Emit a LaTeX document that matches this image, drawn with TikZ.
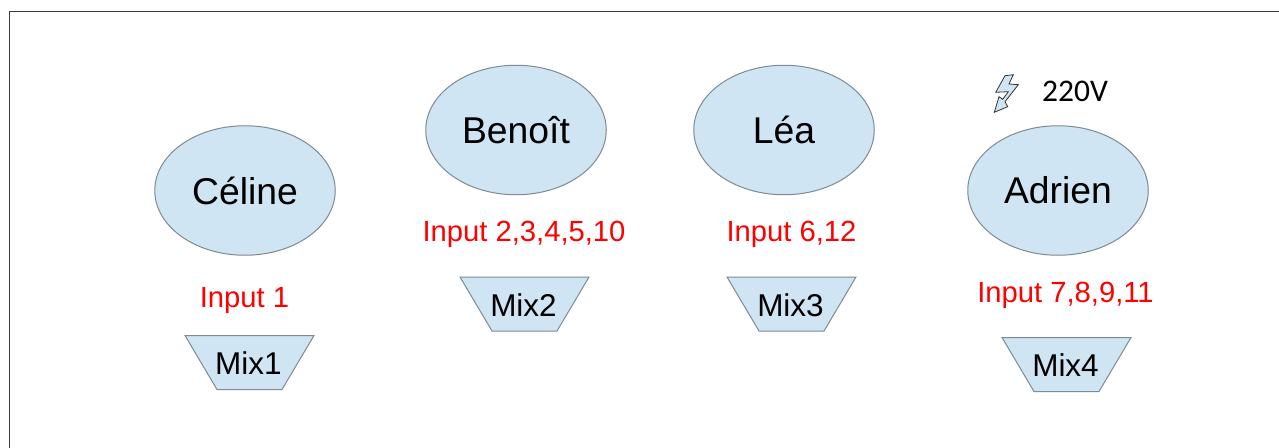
\documentclass[tikz,border=0pt]{standalone}
\usepackage{fontspec}
\setmainfont{Liberation Sans}
\newfontfamily\carl{Carlito}
\definecolor{fillblue}{HTML}{CFE5F4}
\definecolor{edgegray}{HTML}{7F8A92}
\definecolor{framegray}{HTML}{3A3A3A}
\usetikzlibrary{shapes.geometric}
\tikzset{
  person/.style={draw=edgegray,fill=fillblue,line width=1pt,ellipse,minimum width=180.5pt,minimum height=129.5pt,inner sep=0pt,font=\fontsize{37.3}{40}\selectfont},
  inlabel/.style={text=red,inner sep=0pt,font=\fontsize{29.2}{32}\selectfont},
  mixlabel/.style={inner sep=0pt,font=\fontsize{31.5}{34}\selectfont},
  mixshape/.style={draw=edgegray,fill=fillblue,line width=1pt,line join=miter},
  boltshape/.style={draw=black!80,fill=fillblue,line width=.8pt,line join=miter}
}
\begin{document}
\begin{tikzpicture}[x=1pt,y=-1pt]
\useasboundingbox (0,0) rectangle (1279,447);
\draw[framegray,line width=1.5pt] (9.5,460) -- (9.5,11.5) -- (1290,11.5);
\node[person] (celine) at (245,190.5) {Céline};
\node[person] (benoit) at (516,130) {Benoît};
\node[person] (lea) at (784,130) {Léa};
\node[person] (adrien) at (1058,190.5) {Adrien};
\node[inlabel] (in1) at (244.5,300.5) {Input 1};
\node[inlabel] (in2) at (524,234.5) {Input 2,3,4,5,10};
\node[inlabel] (in3) at (791.5,234.5) {Input 6,12};
\node[inlabel] (in4) at (1065.5,295.5) {Input 7,8,9,11};
\foreach \n/\x/\y in {1/185/335.5,2/460/277,3/727/277,4/1002/337.5}{
  \draw[mixshape] (\x,\y) -- ++(129,0) -- ++(-32,54) -- ++(-65,0) -- cycle;
  \node[mixlabel] (mix\n) at (\x+63.5,\y+28) {Mix\n};
}
\draw[boltshape] (995.7,92.3) -- (1005,75.7) -- (1013.3,74.7) -- (1009,84) -- (1018.3,84.7) -- (1005,101.7) -- (1007.7,106.7) -- (994.3,112.3) -- (999,96.7) -- (1002.7,99.3) -- (1008.3,91.7) -- cycle;
\node[inner sep=0pt,font=\carl\fontsize{31.5}{34}\selectfont] (volt) at (1075,91) {220V};
\end{tikzpicture}
\end{document}
